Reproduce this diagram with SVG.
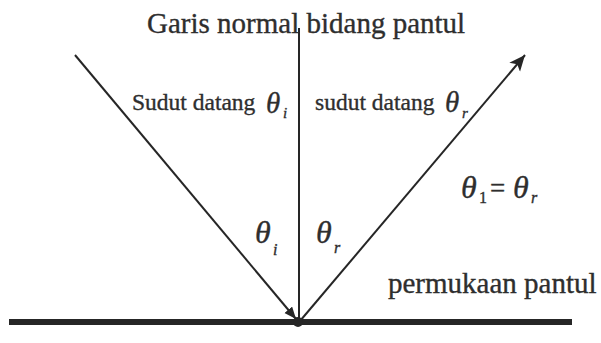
<svg xmlns="http://www.w3.org/2000/svg" width="601" height="343" viewBox="0 0 601 343">
<defs>
<style>
text{font-family:"Liberation Serif","Times New Roman",serif;fill:#2e2e2e;stroke:#2e2e2e;stroke-width:0.35;}
.g{font-size:29px;}
.s{font-size:23.5px;}
.th{font-style:italic;}
.ray{stroke:#262626;stroke-width:2;fill:none;}
</style>
<marker id="ah" markerUnits="userSpaceOnUse" markerWidth="20" markerHeight="16" refX="16" refY="7" orient="auto">
<path d="M0,0 L16,7 L0,14 L4,7 Z" fill="#262626"/>
</marker>
<marker id="ahs" markerUnits="userSpaceOnUse" markerWidth="14" markerHeight="12" refX="12" refY="5" orient="auto">
<path d="M0,0 L12,5 L0,10 Z" fill="#262626"/>
</marker>
</defs>
<rect width="601" height="343" fill="#fff"/>
<g id="surface">
<line x1="9" y1="322" x2="572" y2="322" stroke="#262626" stroke-width="6"/>
</g>
<g id="connectors">
<line class="ray" x1="299" y1="28" x2="299" y2="322" stroke-width="1.6"/>
<line class="ray" x1="75" y1="55" x2="296" y2="319" marker-end="url(#ahs)"/>
<line class="ray" x1="300" y1="321" x2="525" y2="55" marker-end="url(#ah)"/>
</g>
<g id="point">
<circle cx="298" cy="322" r="5" fill="#262626"/>
</g>
<g id="label-normal">
<text class="g" x="147" y="33">Garis normal bidang pantul</text>
</g>
<g id="label-incident">
<text class="s" x="132" y="110">Sudut datang</text>
<text class="th" x="266" y="113" font-size="29">θ</text>
<text class="th" x="283" y="118" font-size="15">i</text>
</g>
<g id="label-reflected">
<text class="s" x="315" y="110">sudut datang</text>
<text class="th" x="445" y="112" font-size="29">θ</text>
<text class="th" x="462" y="118" font-size="15">r</text>
</g>
<g id="angle-i">
<text class="th" x="255" y="243" font-size="32">θ</text>
<text class="th" x="273" y="255" font-size="16">i</text>
</g>
<g id="angle-r">
<text class="th" x="316" y="243" font-size="32">θ</text>
<text class="th" x="334" y="253" font-size="16">r</text>
</g>
<g id="equation">
<text class="th" x="461" y="198" font-size="32">θ</text>
<text x="479" y="203" font-size="16">1</text>
<text x="490" y="197" font-size="27">=</text>
<text class="th" x="513" y="198" font-size="32">θ</text>
<text class="th" x="531" y="203" font-size="16">r</text>
</g>
<g id="label-surface">
<text class="g" x="388" y="293">permukaan pantul</text>
</g>
</svg>
